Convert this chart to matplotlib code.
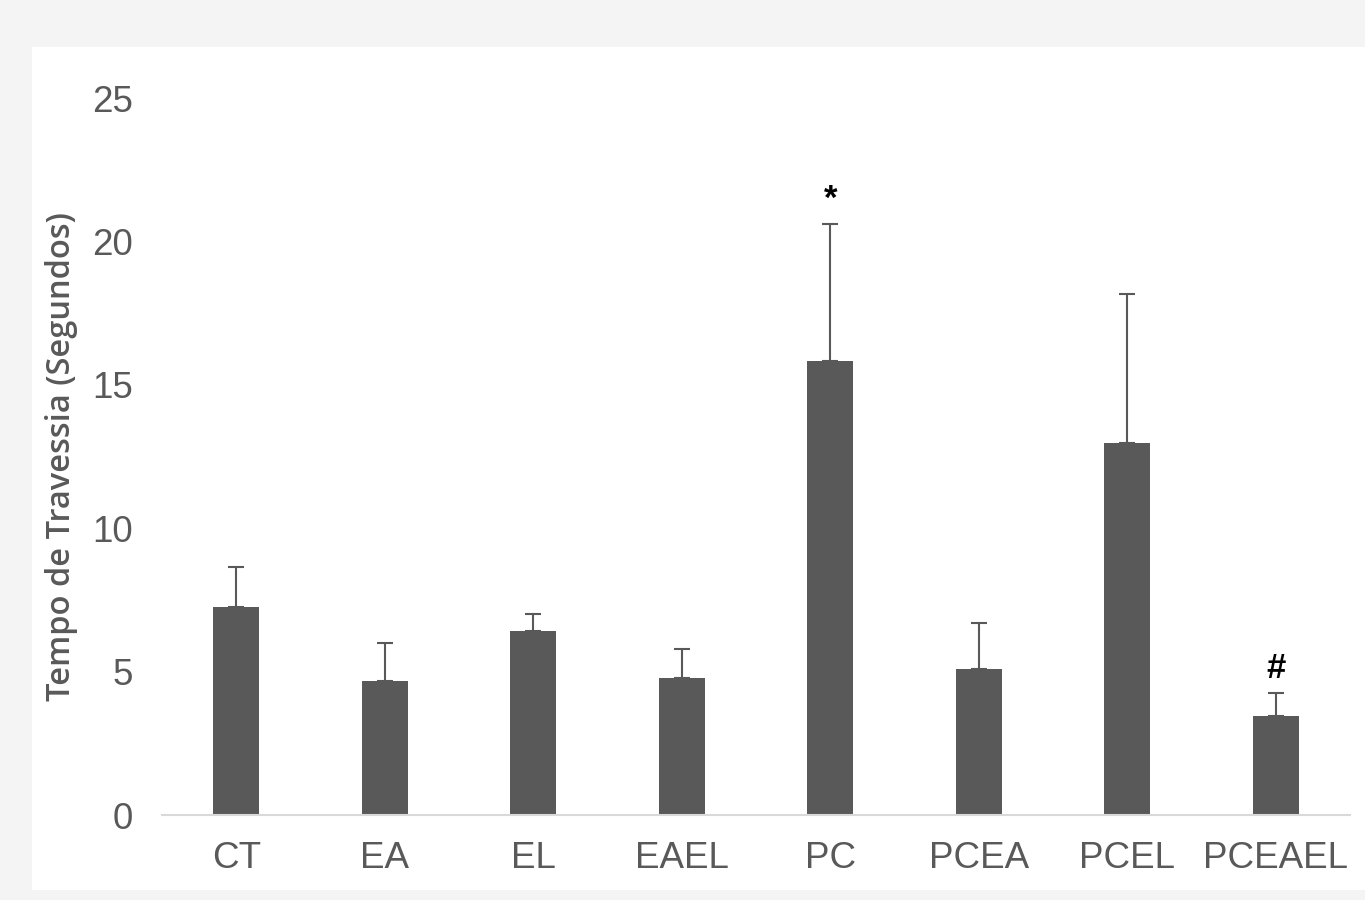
import matplotlib
matplotlib.use("Agg")
import matplotlib.pyplot as plt
from matplotlib.patches import Rectangle

# Data
groups = ["CT", "EA", "EL", "EAEL", "PC", "PCEA", "PCEL", "PCEAEL"]
means = [7.25, 4.67, 6.42, 4.78, 15.83, 5.09, 12.97, 3.45]
errors = [1.40, 1.33, 0.58, 1.01, 4.77, 1.60, 5.20, 0.80]
marks = ["", "", "", "", "*", "", "", "#"]

grey = "#595959"

fig = plt.figure(figsize=(13.65, 9), dpi=100)
fig.patch.set_facecolor("#f4f4f4")
# white chart panel, drawn behind the axes
fig.add_artist(Rectangle((32 / 1365, 10 / 900), 1 - 32 / 1365, 843 / 900,
                         transform=fig.transFigure, facecolor="white",
                         edgecolor="none", zorder=-10))

ax = fig.add_axes([0.1187, 0.0944, 0.8703, 0.7966])
ax.set_zorder(1)
ax.set_facecolor("none")
x = range(len(groups))
ax.bar(x, means, width=0.31, color=grey, zorder=2)
ax.errorbar(x, means, yerr=[[0] * len(errors), errors], fmt="none",
            ecolor=grey, elinewidth=1.5, capsize=6, capthick=1.5, zorder=3)

for i, m in enumerate(marks):
    if m:
        ax.text(i, means[i] + errors[i] + 0.3, m, ha="center", va="bottom",
                fontsize=25, color="black", fontweight="bold",
                family="Liberation Sans")

ax.set_xlim(-0.5, len(groups) - 0.5)
ax.set_ylim(0, 25)
ax.set_yticks([0, 5, 10, 15, 20, 25])
ax.set_xticks(list(x))
ax.set_xticklabels(groups)

for s in ["top", "right", "left"]:
    ax.spines[s].set_visible(False)
ax.spines["bottom"].set_color("#d9d9d9")
ax.spines["bottom"].set_linewidth(1.5)

ax.tick_params(axis="both", length=0, colors=grey, labelsize=26.5)
ax.tick_params(axis="y", pad=21)
ax.tick_params(axis="x", pad=19)
for lab in ax.get_xticklabels() + ax.get_yticklabels():
    lab.set_family("Liberation Sans")

ax.set_ylabel("Tempo de Travessia (Segundos)", fontsize=23.5, color=grey,
              family="Open Sans", fontweight="semibold", labelpad=10)

fig.savefig("out.png", dpi=100, facecolor=fig.get_facecolor())
